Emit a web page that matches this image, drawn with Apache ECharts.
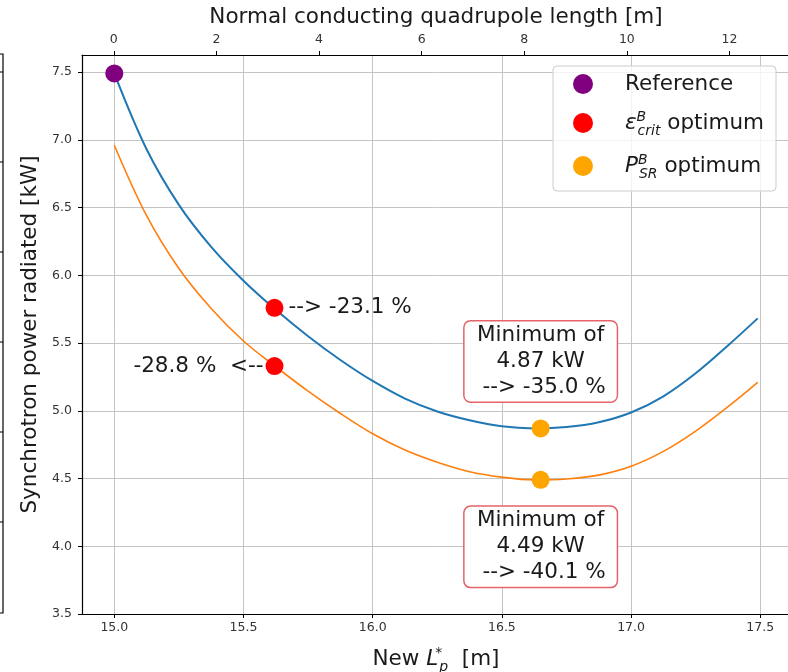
<!DOCTYPE html>
<html>
<head>
<meta charset="utf-8">
<script src="https://cdn.jsdelivr.net/npm/echarts@6/dist/echarts.min.js"></script>
<style>
  html, body { margin: 0; padding: 0; background: #fff; }
  #chart { width: 788px; height: 672px; }
</style>
</head>
<body>
<div id="chart"></div>
<script>
// curve samples: new L_p* [m] -> power [kW]
const lengthNew = [15.0, 15.125, 15.25, 15.375, 15.5, 15.625, 15.75, 15.875, 16.0, 16.125, 16.25,
    16.375, 16.5, 16.625, 16.75, 16.875, 17.0, 17.125, 17.25, 17.375, 17.49];
const powerEps = [7.49, 6.93, 6.52, 6.21, 5.96, 5.745, 5.55, 5.375, 5.22, 5.09, 4.995,
    4.93, 4.885, 4.87, 4.88, 4.915, 4.987, 5.107, 5.277, 5.482, 5.682];
const powerPsr = [6.96, 6.44, 6.05, 5.755, 5.515, 5.325, 5.145, 4.98, 4.83, 4.71, 4.62,
    4.55, 4.51, 4.49, 4.497, 4.525, 4.59, 4.70, 4.85, 5.03, 5.21];

const refPoint = [[15.0, 7.49]];
const epsPoints = [[15.62, 5.76], [15.62, 5.33]];
const psrPoints = [[16.65, 4.87], [16.65, 4.49]];
const epsLabels = ['--> -23.1 %', '-28.8 %  <--'];
const psrLabels = ['Minimum of\n4.87 kW\n --> -35.0 %', 'Minimum of\n4.49 kW\n --> -40.1 %'];

const bottomRange = [14.875, 17.615];
const topRange = [-0.62, 13.18];
const yRange = [3.5, 7.626];

const FONT = 'DejaVu Sans';
const BIG = 21.5;
const SMALL = 12.5;
const INK = '#1a1a1a';

const zip = (xs, ys) => xs.map((x, i) => [x, ys[i]]);

const mathRich = {
    t: { fontFamily: FONT, fontSize: BIG, color: INK, lineHeight: 30 },
    it: { fontFamily: FONT, fontSize: BIG, fontStyle: 'italic', color: INK, lineHeight: 30 },
    sup: { fontFamily: FONT, fontSize: 14, fontStyle: 'italic', color: INK, lineHeight: 15,
        verticalAlign: 'top', width: 1, padding: [2, 0, 0, 0] },
    sub: { fontFamily: FONT, fontSize: 14, fontStyle: 'italic', color: INK, lineHeight: 15,
        verticalAlign: 'bottom' },
    gap: { width: 27, fontSize: BIG, lineHeight: 30 }
};

const legendNames = {
    'Reference': '{gap| }{t|Reference}',
    'eps': '{gap| }{it|ε}{sup|B}{sub|crit}{t| optimum}',
    'psr': '{gap| }{it|P}{sup|B}{sub|SR}{t| optimum}'
};

const chart = echarts.init(document.getElementById('chart'), null, { renderer: 'canvas' });

const option = {
    animation: false,
    backgroundColor: '#fff',
    textStyle: { fontFamily: FONT },
    grid: {
        left: 82, top: 55, right: -2, bottom: 58,
        containLabel: false,
        outerBoundsMode: 'none'
    },
    legend: {
        data: ['Reference', 'eps', 'psr'],
        left: 553, top: 66,
        orient: 'vertical',
        icon: 'circle',
        itemWidth: 20, itemHeight: 20,
        itemGap: 13,
        padding: [7, 12, 10, 20],
        selectedMode: false,
        backgroundColor: 'rgba(255,255,255,0.8)',
        borderColor: '#cccccc',
        borderWidth: 1,
        borderRadius: 4,
        formatter: name => legendNames[name],
        textStyle: { rich: mathRich }
    },
    xAxis: [{
        type: 'value',
        position: 'bottom',
        min: bottomRange[0], max: bottomRange[1],
        minInterval: 0.5, maxInterval: 0.5,
        name: '{t|New }{it|L}{sup|*}{sub|p}{t|  [m]}',
        nameLocation: 'middle',
        nameGap: 30,
        nameTextStyle: { rich: mathRich },
        axisLine: { onZero: false, lineStyle: { color: '#000', width: 1.2 } },
        axisTick: { inside: false, length: 4, lineStyle: { color: '#000' } },
        axisLabel: {
            showMinLabel: false, showMaxLabel: false,
            margin: 7, fontFamily: FONT, fontSize: SMALL, color: '#333',
            formatter: v => v.toFixed(1)
        },
        splitLine: { show: true, lineStyle: { color: '#c4c4c4', width: 1 } }
    }, {
        type: 'value',
        position: 'top',
        min: topRange[0], max: topRange[1],
        minInterval: 2, maxInterval: 2,
        name: 'Normal conducting quadrupole length [m]',
        nameLocation: 'middle',
        nameGap: 27,
        nameTextStyle: { fontFamily: FONT, fontSize: BIG, color: INK },
        axisLine: { onZero: false, lineStyle: { color: '#000', width: 1.2 } },
        axisTick: { inside: false, length: 4, lineStyle: { color: '#000' } },
        axisLabel: {
            showMinLabel: false, showMaxLabel: false,
            margin: 9, fontFamily: FONT, fontSize: SMALL, color: '#333',
            formatter: v => String(Math.round(v))
        },
        splitLine: { show: false }
    }],
    yAxis: {
        type: 'value',
        min: yRange[0], max: yRange[1],
        minInterval: 0.5, maxInterval: 0.5,
        name: 'Synchrotron power radiated [kW]',
        nameLocation: 'middle',
        nameRotate: 90,
        nameGap: 35,
        nameTextStyle: { fontFamily: FONT, fontSize: BIG, color: INK },
        axisLine: { show: true, onZero: false, lineStyle: { color: '#000', width: 1.2 } },
        axisTick: { show: true, inside: false, length: 4, lineStyle: { color: '#000' } },
        axisLabel: {
            showMaxLabel: false,
            margin: 10, fontFamily: FONT, fontSize: SMALL, color: '#333',
            formatter: v => v.toFixed(1)
        },
        splitLine: { show: true, lineStyle: { color: '#c4c4c4', width: 1 } }
    },
    series: [{
        type: 'line',
        data: zip(lengthNew, powerEps),
        smooth: 0.35,
        showSymbol: false,
        lineStyle: { color: '#1f77b4', width: 2 },
        z: 2
    }, {
        type: 'line',
        data: zip(lengthNew, powerPsr),
        smooth: 0.35,
        showSymbol: false,
        lineStyle: { color: '#ff7f0e', width: 1.6 },
        z: 2
    }, {
        name: 'Reference',
        type: 'scatter',
        data: refPoint,
        symbolSize: 18,
        itemStyle: { color: '#800080', opacity: 1 },
        z: 5
    }, {
        name: 'eps',
        type: 'scatter',
        symbolSize: 18,
        itemStyle: { color: '#ff0000', opacity: 1 },
        z: 5,
        data: epsPoints.map((p, i) => ({
            value: p,
            label: {
                show: true,
                position: i === 0 ? 'right' : 'left',
                distance: i === 0 ? 5 : 2,
                formatter: epsLabels[i],
                fontFamily: FONT, fontSize: BIG, color: INK
            }
        }))
    }, {
        name: 'psr',
        type: 'scatter',
        symbolSize: 18,
        itemStyle: { color: '#ffa500', opacity: 1 },
        z: 5,
        data: psrPoints.map((p, i) => ({
            value: p,
            label: {
                show: true,
                position: i === 0 ? 'top' : 'bottom',
                distance: 18,
                formatter: psrLabels[i],
                fontFamily: FONT, fontSize: BIG, color: INK,
                lineHeight: 26,
                align: 'center',
                backgroundColor: '#fff',
                borderColor: '#e5646a',
                borderWidth: 1.5,
                borderRadius: 6,
                padding: [1, 11, 1, 11]
            }
        }))
    }],
    // edge of a neighbouring panel cut off at the left
    graphic: [{
        type: 'polyline',
        shape: { points: [[0, 54], [3, 54], [3, 613], [0, 613]] },
        style: { stroke: '#000', lineWidth: 1.2, fill: null }
    }].concat([72, 162, 252, 342, 432, 522].map(y => ({
        type: 'line',
        shape: { x1: 0, y1: y, x2: 3, y2: y },
        style: { stroke: '#000', lineWidth: 1 }
    })))
};

chart.setOption(option);
</script>
</body>
</html>
